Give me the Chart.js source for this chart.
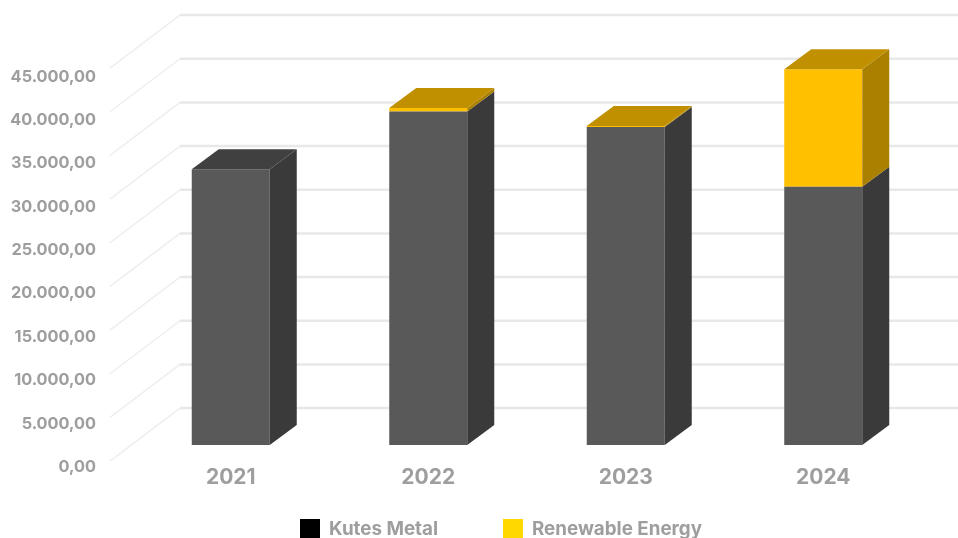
<!doctype html>
<html>
<head>
<meta charset="utf-8">
<title>Revenue by segment</title>
<script src="https://cdn.jsdelivr.net/npm/chart.js@4"></script>
<style>
  html, body { margin: 0; background: #fff; overflow: hidden; }
  canvas { display: block; }
</style>
</head>
<body>
<canvas id="chart" width="958" height="538"></canvas>
<script>
const years = ["2021", "2022", "2023", "2024"];
const kutesMetal = [31600, 38200, 36430, 29590];
const renewableEnergy = [0, 400, 100, 13450];
const seriesNames = ["Kutes Metal", "Renewable Energy"];
const legendColors = ["#000000", "#FFD800"];
const axisTicks = [0, 5000, 10000, 15000, 20000, 25000, 30000, 35000, 40000, 45000];

const TEXT = "#9e9e9e";
const FONT = "Inter, 'Liberation Sans', sans-serif";

// front, side and top shades of each box
const shades = [
  { front: "#595959", side: "#3a3a3a", top: "#404040" },
  { front: "#FFC000", side: "#A98000", top: "#C09000" },
];

const DEPTH_X = 27;
const DEPTH_Y = 20;

function poly(ctx, color, pts) {
  ctx.fillStyle = color;
  ctx.beginPath();
  pts.forEach((p, i) => (i ? ctx.lineTo(p[0], p[1]) : ctx.moveTo(p[0], p[1])));
  ctx.closePath();
  ctx.fill();
}

// floor diagonals and back wall lines
const perspectiveGrid = {
  id: "perspectiveGrid",
  beforeDatasetsDraw(chart) {
    const { ctx, scales } = chart;
    ctx.save();
    scales.yLabels.ticks.forEach((t) => {
      const y = scales.y.getPixelForValue(t.value);
      ctx.strokeStyle = "#eeeeee";
      ctx.lineWidth = 1.5;
      ctx.beginPath();
      ctx.moveTo(110, y + 16);
      ctx.lineTo(180, y - 37);
      ctx.stroke();
      ctx.strokeStyle = "#e8e8e8";
      ctx.lineWidth = 2.5;
      ctx.beginPath();
      ctx.moveTo(180, y - 37);
      ctx.lineTo(958, y - 37);
      ctx.stroke();
    });
    ctx.restore();
  },
};

// extrude the bars: sides behind every segment, lid on the top one
const barDepth = {
  id: "barDepth",
  afterDatasetsDraw(chart) {
    const { ctx } = chart;
    ctx.save();
    years.forEach((_, i) => {
      let topDs = 0;
      chart.data.datasets.forEach((ds, d) => {
        if (ds.data[i] > 0) topDs = d;
      });
      chart.data.datasets.forEach((ds, d) => {
        if (!(ds.data[i] > 0)) return;
        const bar = chart.getDatasetMeta(d).data[i];
        const left = bar.x - bar.width / 2;
        const right = bar.x + bar.width / 2;
        poly(ctx, shades[d].side, [
          [right, bar.y],
          [right + DEPTH_X, bar.y - DEPTH_Y],
          [right + DEPTH_X, bar.base - DEPTH_Y],
          [right, bar.base],
        ]);
        if (d === topDs) {
          poly(ctx, shades[d].top, [
            [left, bar.y],
            [left + DEPTH_X, bar.y - DEPTH_Y],
            [right + DEPTH_X, bar.y - DEPTH_Y],
            [right, bar.y],
          ]);
        }
      });
    });
    ctx.restore();
  },
};

const swatchLegend = {
  id: "swatchLegend",
  afterDraw(chart) {
    const { ctx } = chart;
    const xs = [300, 503];
    ctx.save();
    ctx.font = "700 18.8px " + FONT;
    ctx.textBaseline = "middle";
    seriesNames.forEach((name, i) => {
      ctx.fillStyle = legendColors[i];
      ctx.fillRect(xs[i], 519, 20, 20);
      ctx.fillStyle = TEXT;
      ctx.fillText(name, xs[i] + 29, 529);
    });
    ctx.restore();
  },
};

new Chart(document.getElementById("chart"), {
  type: "bar",
  data: {
    labels: years,
    datasets: [
      { label: seriesNames[0], data: kutesMetal, backgroundColor: shades[0].front },
      { label: seriesNames[1], data: renewableEnergy, backgroundColor: shades[1].front },
    ],
  },
  options: {
    responsive: false,
    animation: false,
    layout: { padding: { top: 21, right: 36, left: 0, bottom: 0 } },
    datasets: { bar: { barPercentage: 0.395, categoryPercentage: 1, yAxisID: "y" } },
    plugins: { legend: { display: false }, tooltip: { enabled: false } },
    scales: {
      x: {
        stacked: true,
        grid: { display: false, drawTicks: false },
        border: { display: false },
        afterFit: (scale) => { scale.height = 71; },
        ticks: {
          color: TEXT,
          padding: -2,
          font: { family: FONT, size: 21, weight: "700" },
        },
      },
      // bars sit on this one, its zero is lifted off the tick labels
      y: {
        stacked: true,
        display: false,
        min: -2509,
        max: 45724,
      },
      yLabels: {
        position: "left",
        min: 0,
        max: 48565,
        grid: { display: false, drawTicks: false },
        border: { display: false },
        afterFit: (scale) => { scale.width = 132; },
        // the tick generator would respace these to fill the range
        afterBuildTicks: (scale) => { scale.ticks = axisTicks.map((value) => ({ value })); },
        ticks: {
          color: TEXT,
          padding: 36,
          font: { family: FONT, size: 16.3, weight: "700" },
          callback: (v) =>
            v.toLocaleString("de-DE", { minimumFractionDigits: 2, maximumFractionDigits: 2 }),
        },
      },
    },
  },
  plugins: [perspectiveGrid, barDepth, swatchLegend],
});
</script>
</body>
</html>
